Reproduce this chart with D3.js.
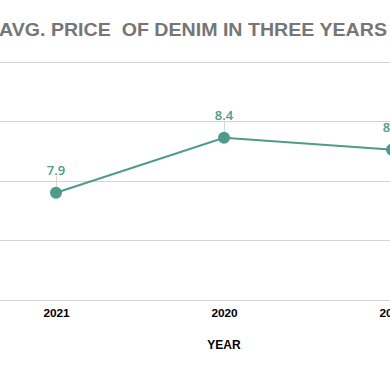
<!DOCTYPE html>
<html>
<head>
<meta charset="utf-8">
<script src="https://cdn.jsdelivr.net/npm/d3@7"></script>
<style>
  body { margin: 0; background: #fff; overflow: hidden; }
  svg { display: block; }
</style>
</head>
<body>
<svg id="chart" width="390" height="371"></svg>
<script>
// data
var years = ["2021", "2020", "2019"];
var prices = [7.9, 8.36, 8.26];
var yTicks = [7, 7.5, 8, 8.5, 9];

var svg = d3.select("#chart");
var teal = "#4f9a8b";

// plot runs past the window edges, like the cropped original
var x = d3.scalePoint()
    .domain(years)
    .range([56, 392]);

var y = d3.scaleLinear()
    .domain([7, 9])
    .range([300, 61.5]);

// gridlines
svg.selectAll("line.grid")
    .data(yTicks)
    .enter()
    .append("line")
    .attr("class", "grid")
    .attr("x1", 0)
    .attr("x2", 390)
    .attr("y1", function (d) { return Math.round(y(d)) + 0.5; })
    .attr("y2", function (d) { return Math.round(y(d)) + 0.5; })
    .attr("stroke", "#d4d4d4")
    .attr("stroke-width", 1);

// title
svg.append("text")
    .attr("x", -1)
    .attr("y", 36)
    .attr("fill", "#767676")
    .attr("font-family", "Liberation Sans, Arial, sans-serif")
    .attr("font-weight", "bold")
    .attr("font-size", "19px")
    .attr("textLength", 388)
    .attr("lengthAdjust", "spacingAndGlyphs")
    .attr("xml:space", "preserve")
    .text("AVG. PRICE  OF DENIM IN THREE YEARS");

// x axis labels
var xAxis = d3.axisBottom(x).tickSize(0).tickPadding(0);
var gx = svg.append("g")
    .attr("transform", "translate(0,317)")
    .call(xAxis);
gx.select(".domain").remove();
gx.selectAll("text")
    .attr("dy", 0)
    .attr("fill", "#000")
    .attr("font-family", "Liberation Sans, Arial, sans-serif")
    .attr("font-weight", "bold")
    .attr("font-size", "11.8px");

svg.append("text")
    .attr("x", 224)
    .attr("y", 349)
    .attr("text-anchor", "middle")
    .attr("fill", "#000")
    .attr("font-family", "Liberation Sans, Arial, sans-serif")
    .attr("font-weight", "bold")
    .attr("font-size", "12px")
    .text("YEAR");

var points = years.map(function (d, i) { return { year: d, value: prices[i] }; });
var fmt = d3.format(".1f");

// leader lines
svg.selectAll("line.leader")
    .data(points)
    .enter()
    .append("line")
    .attr("class", "leader")
    .attr("x1", function (d) { return x(d.year) + 0.5; })
    .attr("x2", function (d) { return x(d.year) + 0.5; })
    .attr("y1", function (d) { return y(d.value) - 17; })
    .attr("y2", function (d) { return y(d.value) - 6; })
    .attr("stroke", "#d6d6d6")
    .attr("stroke-width", 1);

// line
var line = d3.line()
    .x(function (d) { return x(d.year); })
    .y(function (d) { return y(d.value); });

svg.append("path")
    .datum(points)
    .attr("d", line)
    .attr("fill", "none")
    .attr("stroke", teal)
    .attr("stroke-width", 2);

svg.selectAll("circle")
    .data(points)
    .enter()
    .append("circle")
    .attr("cx", function (d) { return x(d.year); })
    .attr("cy", function (d) { return y(d.value); })
    .attr("r", 6)
    .attr("fill", teal);

// data labels
svg.selectAll("text.lbl")
    .data(points)
    .enter()
    .append("text")
    .attr("class", "lbl")
    .attr("x", function (d) { return x(d.year); })
    .attr("y", function (d) { return y(d.value) - 17.5; })
    .attr("text-anchor", "middle")
    .attr("fill", teal)
    .attr("font-family", "Open Sans, sans-serif")
    .attr("font-weight", "600")
    .attr("font-size", "13px")
    .text(function (d) { return fmt(d.value); });
</script>
</body>
</html>
